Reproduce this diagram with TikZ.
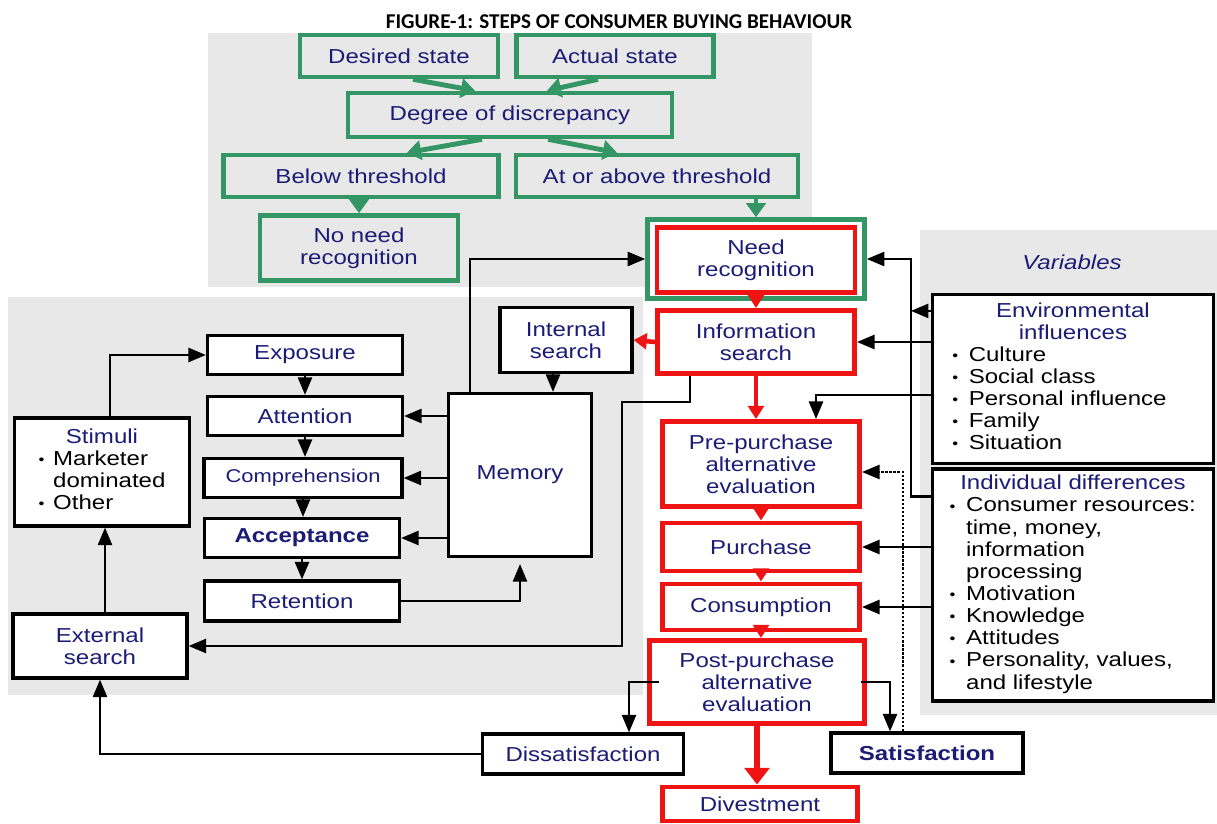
\documentclass[tikz,border=0pt]{standalone}
\usepackage{fontspec}
\setmainfont{Liberation Sans}[FakeStretch=1.19]
\newfontfamily\titlefont{Carlito}
\usetikzlibrary{arrows.meta,calc}

\definecolor{stepgreen}{RGB}{52,150,100}
\definecolor{stepred}{RGB}{238,20,20}
\definecolor{navytext}{RGB}{28,28,118}
\definecolor{panelgray}{RGB}{232,232,232}
\newcommand\itm{\raisebox{0.5pt}{\footnotesize\textbullet}}

\begin{document}
\begin{tikzpicture}[
        x=0.02cm, y=-0.02cm,
        >={Triangle[length=10pt,width=8pt]},
        wh/.style 2 args={minimum width=#1*0.02cm, minimum height=#2*0.02cm},
        txt/.style={font=\fontsize{11.5}{12.6}\selectfont, text=navytext, align=center, inner sep=0pt},
        box/.style={txt, draw=black, line width=1.8pt, fill=white},
        gbox/.style={txt, draw=stepgreen, line width=2.6pt},
        rbox/.style={txt, draw=stepred, line width=2.8pt, fill=white},
        barrow/.style={draw=black, line width=1.4pt, -{Triangle[length=10pt,width=8pt]}},
        garrow/.style={draw=stepgreen, line width=2.8pt, -{Triangle[length=8pt,width=11pt]}},
        rarrow/.style={draw=stepred, line width=2.6pt, -{Triangle[length=7.5pt,width=9pt]}},
        bigrarrow/.style={draw=stepred, line width=3pt, -{Triangle[length=9.5pt,width=14pt]}},
    ]
\useasboundingbox (0,0) rectangle (1217,824);

% panels
\fill[panelgray] (208,33) rectangle (812,287);
\fill[panelgray] (8,297) rectangle (643,695);
\fill[panelgray] (920,230) rectangle (1217,715);

\node[font=\titlefont\bfseries\fontsize{12}{14}\selectfont] (title) at (619,22) {FIGURE-1: STEPS OF CONSUMER BUYING BEHAVIOUR};

% problem recognition
\node[gbox, wh={198}{42}] (desired) at (399,56) {Desired state};
\node[gbox, wh={197}{42}] (actual) at (615,56) {Actual state};
\node[gbox, wh={324}{44}] (degree) at (510,115) {Degree of discrepancy};
\node[gbox, wh={275}{42}] (below) at (361,176) {Below threshold};
\node[gbox, wh={282}{42}] (above) at (657,176) {At or above threshold};
\node[gbox, wh={198}{65}] (noneed) at (359,248) {No need\\recognition};
\node[gbox, fill=white, wh={217}{79}] (needg) at (756,259) {};

% decision process
\node[rbox, wh={198}{65}] (need) at (756,260) {Need\\recognition};
\node[rbox, wh={197}{63}] (info) at (756,342) {Information\\search};
\node[rbox, wh={197}{85}] (pre) at (761,464) {Pre-purchase\\alternative\\evaluation};
\node[rbox, wh={197}{48}] (purch) at (761,547) {Purchase};
\node[rbox, wh={197}{46}] (cons) at (761,607) {Consumption};
\node[rbox, wh={215}{83}] (post) at (757,682) {Post-purchase\\alternative\\evaluation};
\node[rbox, wh={195}{34}] (divest) at (760,804) {Divestment};

% information processing
\node[box, wh={195}{39}] (expo) at (305,355) {Exposure};
\node[box, wh={195}{39}] (atten) at (305,416) {Attention};
\node[box, wh={198}{39}, font=\fontsize{10.5}{12}\selectfont] (compre) at (303,478) {Comprehension};
\node[box, wh={195}{39}, font=\fontsize{11.5}{12.6}\selectfont\bfseries] (accept) at (302,538) {Acceptance};
\node[box, wh={195}{40}] (retent) at (302,601) {Retention};
\node[box, wh={132}{65}] (intern) at (566,340) {Internal\\search};
\node[box, wh={143}{163}] (memory) at (520,475) {Memory};
\node[box, wh={175}{108}, text=black] (stimuli) at (102,472) {\begin{tabular}{@{}l@{\hspace{5pt}}l@{}}
    \multicolumn{2}{c}{\textcolor{navytext}{Stimuli}}\\
    \itm & Marketer\\
         & dominated\\
    \itm & Other
    \end{tabular}};
\node[box, wh={174}{64}] (extern) at (100,646) {External\\search};
\node[box, wh={201}{40}] (dissat) at (583,754) {Dissatisfaction};
\node[box, wh={192}{40}, font=\fontsize{11.5}{12.6}\selectfont\bfseries] (satis) at (927,753) {Satisfaction};

% variables
\node[txt, font=\fontsize{11.5}{12.6}\selectfont\itshape] (varhead) at (1072,262) {Variables};
\node[box, wh={281}{169}, text=black] (env) at (1073,379) {\begin{tabular}{@{}l@{\hspace{6pt}}l@{}}
    \multicolumn{2}{c}{\textcolor{navytext}{Environmental}}\\
    \multicolumn{2}{c}{\textcolor{navytext}{influences}}\\
    \itm & \makebox[128pt][l]{Culture}\\
    \itm & Social class\\
    \itm & Personal influence\\
    \itm & Family\\
    \itm & Situation
    \end{tabular}};
\node[box, wh={281}{232}, text=black] (indiv) at (1073,585) {\begin{tabular}{@{}l@{\hspace{6pt}}l@{}}
    \multicolumn{2}{c}{\textcolor{navytext}{Individual differences}}\\
    \itm & Consumer resources:\\
         & time, money,\\
         & information\\
         & processing\\
    \itm & Motivation\\
    \itm & Knowledge\\
    \itm & Attitudes\\
    \itm & Personality, values,\\
         & and lifestyle
    \end{tabular}};

% green arrows
\draw[garrow] ($(desired.south)+(14,0)$) -- ($(degree.north)+(-35,0)$);
\draw[garrow] ($(actual.south)+(-17,0)$) -- ($(degree.north)+(37,0)$);
\draw[garrow] ($(degree.south)+(-28,0)$) -- ($(below.north)+(46,0)$);
\draw[garrow] ($(degree.south)+(38,0)$) -- ($(above.north)+(-40,0)$);
\draw[garrow] (noneed.north |- below.south) -- (noneed.north);
\draw[garrow] (needg.north |- above.south) -- (needg.north);

% red arrows
\draw[rarrow] (need.south) -- (info.north);
\draw[rarrow] (info.west) -- (intern.east);
\draw[rarrow] (info.south) -- (info.south |- pre.north);
\foreach \a/\b in {pre/purch, purch/cons, cons/post}
    \draw[rarrow] (\a.south) -- (\a.south |- \b.north);
\draw[bigrarrow] (post.south) -- (post.south |- divest.north);

% black arrows
\foreach \a/\b in {expo/atten, atten/compre, compre/accept, accept/retent}
    \draw[barrow] (\a.south) -- (\a.south |- \b.north);
\foreach \s in {atten, compre, accept}
    \draw[barrow] (memory.west |- \s) -- (\s.east);
\draw[barrow] ($(stimuli.north)+(8,0)$) |- (expo.west);
\draw[barrow] ($(extern.north)+(5,0)$) -- ($(extern.north |- stimuli.south)+(5,0)$);
\draw[barrow] ($(intern.south)+(-13,0)$) -- ($(intern.south |- memory.north)+(-13,0)$);
\draw[barrow, shorten >=3.4pt] (retent.east) -| (memory.south);
\draw[barrow] ($(memory.north west)+(23,0)$) |- (needg.west);
\coordinate (bend) at (622,402);
\draw[barrow] ($(info.south)+(-66,0)$) |- (bend) |- (extern.east);
\draw[barrow] (dissat.west) -| (extern.south);
\draw[barrow] ($(post.west)+(12,0)$) -| ($(dissat.north)+(46,0)$);
\draw[barrow] ($(post.east)+(-6,0)$) -| ($(satis.north)+(-37,0)$);
\draw[barrow, line width=1.3pt, densely dotted] ($(satis.north)+(-24,0)$) |- ($(pre.east)+(0,8)$);

% variables to stages
\draw[barrow] ($(env.north west)+(0,18)$) -- ++(-20,0);
\draw[barrow] ($(indiv.north west)+(0,29)$) -- ++(-20,0) |- (needg.east);
\draw[barrow] (env.west |- info.east) -- (info.east);
\draw[barrow] ($(env.north west)+(0,102)$) -| ($(pre.north)+(55,0)$);
\draw[barrow] (indiv.west |- purch.east) -- (purch.east);
\draw[barrow] (indiv.west |- cons.east) -- (cons.east);

\end{tikzpicture}
\end{document}
